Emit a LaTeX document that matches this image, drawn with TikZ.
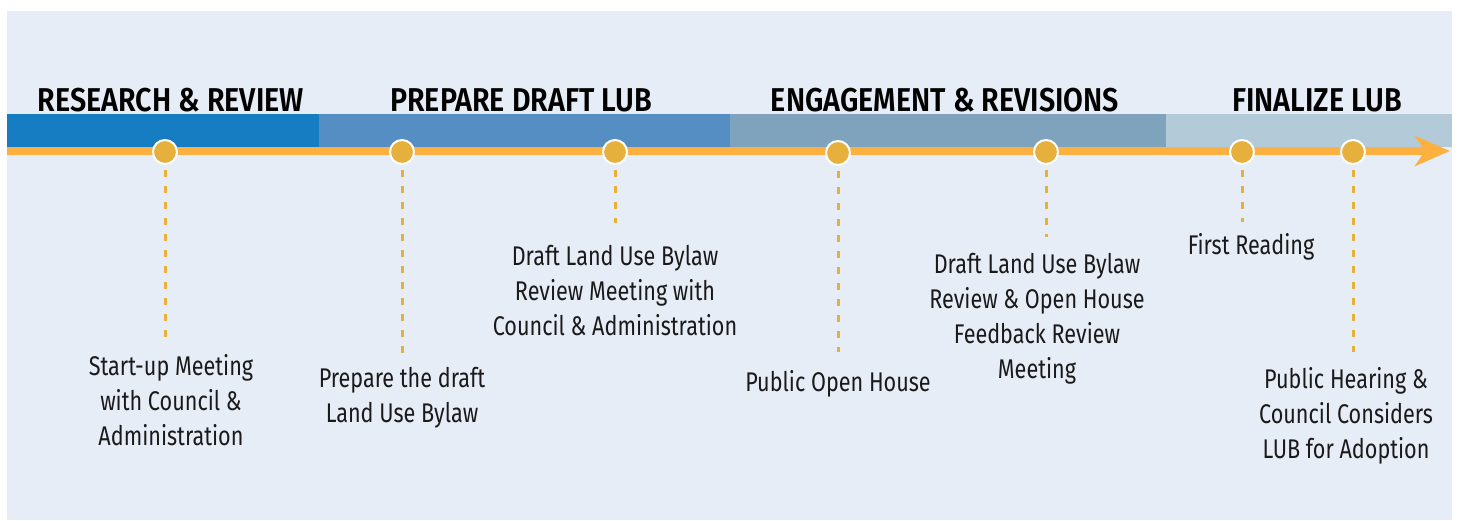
\documentclass[tikz,border=0pt]{standalone}
\usepackage{fontspec}
\setmainfont[FakeStretch=0.8]{Fira Sans}
\newfontfamily\headfont[FakeStretch=0.87]{Fira Sans SemiBold}
\usetikzlibrary{positioning,arrows.meta}
\definecolor{paper}{HTML}{E7EDF7}
\definecolor{phaseA}{HTML}{167DC3}
\definecolor{phaseB}{HTML}{548EC2}
\definecolor{phaseC}{HTML}{7FA3BC}
\definecolor{phaseD}{HTML}{B3CBD8}
\definecolor{tline}{HTML}{FBB040}
\definecolor{pin}{HTML}{E6B03D}
\definecolor{ink}{HTML}{1A1A1A}
\tikzset{
  phase/.style={anchor=base, inner sep=0pt, text=black,
    font=\fontsize{33}{33}\headfont},
  milestone/.style={circle, fill=pin, draw=white, line width=2pt,
    minimum size=24pt, inner sep=0pt},
  note/.style={anchor=north, align=center, inner sep=0pt, text=ink,
    font=\fontsize{27}{35}\selectfont},
  leader/.style={draw=pin, line width=3pt, dash pattern=on 7.5pt off 8.5pt,
    shorten <=5pt}
}

\begin{document}
\begin{tikzpicture}[
                    x=1pt,y=-1pt,
                >=latex]

                \useasboundingbox (0,0) rectangle (1460,521);
                \fill[paper] (7,11) rectangle (1452,520);

                \fill[phaseA] (7,114) rectangle (319,147);
                \fill[phaseB] (319,114) rectangle (730,147);
                \fill[phaseC] (730,114) rectangle (1166,147);
                \fill[phaseD] (1166,114) rectangle (1452,147);

                \draw(171,112) node[phase] (h1) {RESEARCH \& REVIEW};
                \draw(521,112) node[phase] (h2) {PREPARE DRAFT LUB};
                \draw(945,112) node[phase] (h3) {ENGAGEMENT \& REVISIONS};
                \draw(1317,112) node[phase] (h4) {FINALIZE LUB};

                \coordinate (start) at (7,151);
                \coordinate (stop) at (1450,151);
                \draw[tline, line width=8pt,
                  -{Stealth[length=35pt,width=30pt,inset=10pt]}] (start) -- (stop);

                \draw(165,152) node[milestone] (d1) {};
                \draw(402,152) node[milestone] (d2) {};
                \draw(615,152) node[milestone] (d3) {};
                \draw(838,153) node[milestone] (d4) {};
                \draw(1046,152) node[milestone] (d5) {};
                \draw(1242,152) node[milestone] (d6) {};
                \draw(1353,152) node[milestone] (d7) {};

                \draw(171,354) node[note] (t1) {Start-up Meeting\\with Council \&\\Administration};
                \draw(402,367) node[note] (t2) {Prepare the draft\\Land Use Bylaw};
                \draw(615,245) node[note] (t3) {Draft Land Use Bylaw\\Review Meeting with\\Council \& Administration};
                \draw(838,370) node[note] (t4) {Public Open House};
                \draw(1037,253) node[note] (t5) {Draft Land Use Bylaw\\Review \& Open House\\Feedback Review\\Meeting};
                \draw(1251,233) node[note] (t6) {First Reading};
                \draw(1346,367) node[note] (t7) {Public Hearing \&\\Council Considers\\LUB for Adoption};

                \draw[leader, shorten >=13pt] (d1) -- (d1 |- t1.north);
                \draw[leader, shorten >=11pt] (d2) -- (d2 |- t2.north);
                \draw[leader, shorten >=22pt] (d3) -- (d3 |- t3.north);
                \draw[leader, shorten >=18pt] (d4) -- (d4 |- t4.north);
                \draw[leader, shorten >=16pt] (d5) -- (d5 |- t5.north);
                \draw[leader, shorten >=11pt] (d6) -- (d6 |- t6.north);
                \draw[leader, shorten >=15pt] (d7) -- (d7 |- t7.north);

            \end{tikzpicture}
\end{document}
